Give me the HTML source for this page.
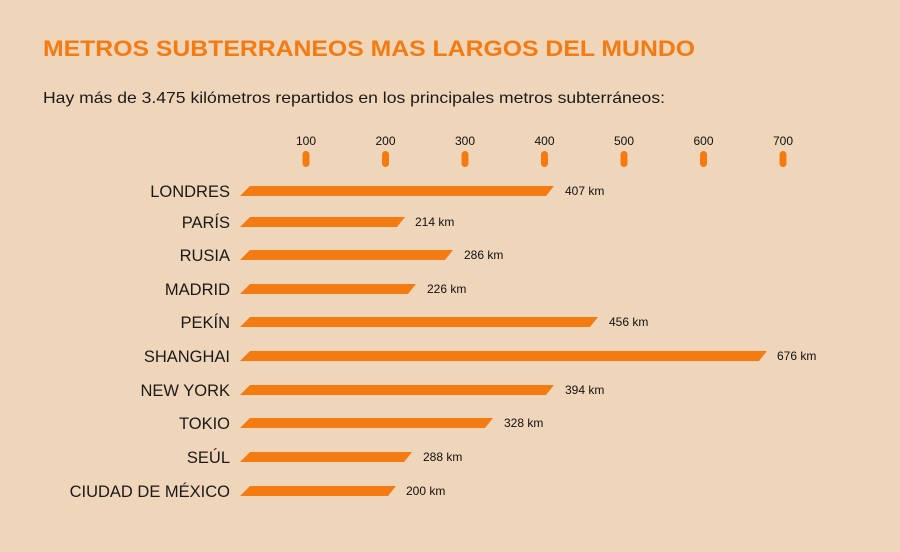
<!DOCTYPE html>
<html><head><meta charset="utf-8"><style>
html,body{margin:0;padding:0;background:#EFD5B9;}
svg{display:block}
</style></head><body>
<svg width="900" height="552" xmlns="http://www.w3.org/2000/svg" font-family="Liberation Sans, sans-serif">
<rect width="900" height="552" fill="#EFD5B9"/>
<text x="43" y="56" font-size="22" font-weight="bold" fill="#F47A12" textLength="652" lengthAdjust="spacingAndGlyphs">METROS SUBTERRANEOS MAS LARGOS DEL MUNDO</text>
<text x="43" y="103" font-size="16" fill="#1a1a1a" textLength="622" lengthAdjust="spacingAndGlyphs">Hay más de 3.475 kilómetros repartidos en los principales metros subterráneos:</text>
<g font-size="12" fill="#111" text-anchor="middle">
<text x="306" y="145">100</text><text x="385.5" y="145">200</text><text x="465" y="145">300</text><text x="544.5" y="145">400</text><text x="624" y="145">500</text><text x="703.5" y="145">600</text><text x="783" y="145">700</text>
</g>
<g fill="#F47A12">
<rect x="302.5" y="151" width="7" height="16" rx="3.5"/><rect x="382" y="151" width="7" height="16" rx="3.5"/><rect x="461.5" y="151" width="7" height="16" rx="3.5"/><rect x="541" y="151" width="7" height="16" rx="3.5"/><rect x="620.5" y="151" width="7" height="16" rx="3.5"/><rect x="700" y="151" width="7" height="16" rx="3.5"/><rect x="779.5" y="151" width="7" height="16" rx="3.5"/>
</g>
<g fill="#F47A12">
<polygon points="250,186 554,186 546,196 240,196"/>
<polygon points="250,217 405,217 397,227 240,227"/>
<polygon points="250,250 453,250 445,260 240,260"/>
<polygon points="250,284 416,284 408,294 240,294"/>
<polygon points="250,317 598,317 590,327 240,327"/>
<polygon points="250,351 767,351 759,361 240,361"/>
<polygon points="250,385 554,385 546,395 240,395"/>
<polygon points="250,418 493,418 485,428 240,428"/>
<polygon points="250,452 412,452 404,462 240,462"/>
<polygon points="250,486 396,486 388,496 240,496"/>
</g>
<g font-size="16.5" fill="#1a1a1a" text-anchor="end">
<text x="230" y="197">LONDRES</text>
<text x="230" y="228">PARÍS</text>
<text x="230" y="261">RUSIA</text>
<text x="230" y="295">MADRID</text>
<text x="230" y="328">PEKÍN</text>
<text x="230" y="362">SHANGHAI</text>
<text x="230" y="396">NEW YORK</text>
<text x="230" y="429">TOKIO</text>
<text x="230" y="463">SEÚL</text>
<text x="230" y="497">CIUDAD DE MÉXICO</text>
</g>
<g font-size="12" fill="#111">
<text x="565" y="195">407 km</text>
<text x="415" y="226">214 km</text>
<text x="464" y="259">286 km</text>
<text x="427" y="293">226 km</text>
<text x="609" y="326">456 km</text>
<text x="777" y="360">676 km</text>
<text x="565" y="394">394 km</text>
<text x="504" y="427">328 km</text>
<text x="423" y="461">288 km</text>
<text x="406" y="495">200 km</text>
</g>
</svg>
</body></html>
